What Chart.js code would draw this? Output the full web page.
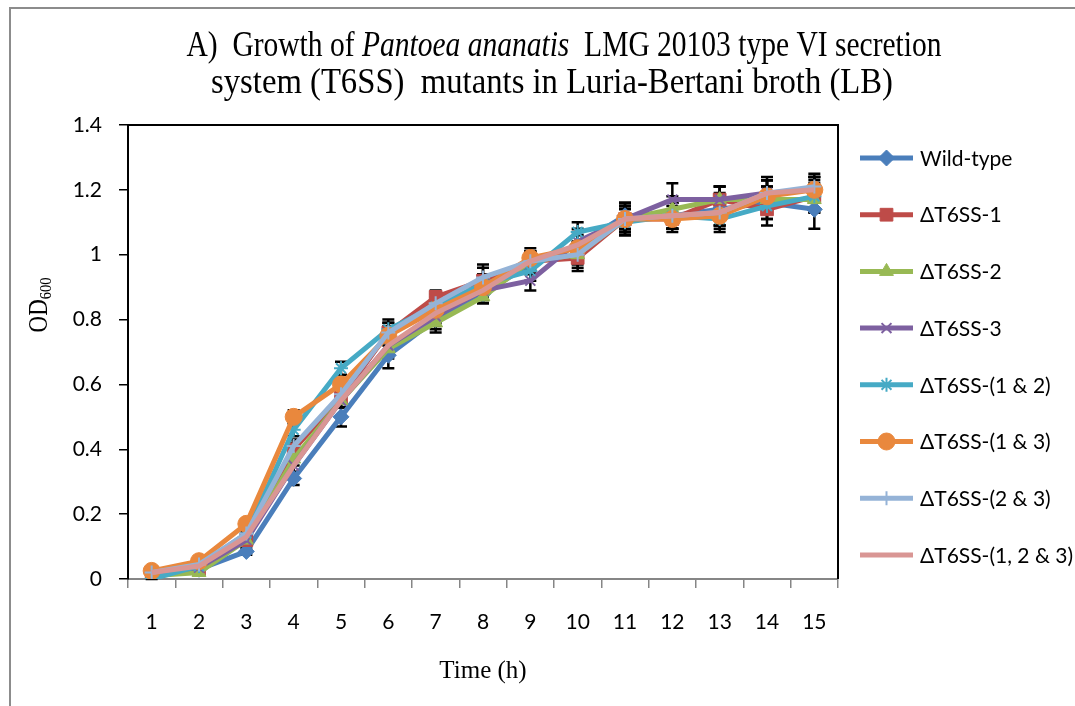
<!DOCTYPE html>
<html>
<head>
<meta charset="utf-8">
<script src="https://cdn.jsdelivr.net/npm/chart.js@4.4.0/dist/chart.umd.min.js"></script>
<style>
  html, body { margin: 0; padding: 0; background: #fff; }
  #wrap { width: 1075px; height: 706px; }
</style>
</head>
<body>
<div id="wrap"><canvas id="growthChart" width="1075" height="706"></canvas></div>
<script>
// time points (h)
var timeLabels = ["1", "2", "3", "4", "5", "6", "7", "8", "9", "10", "11", "12", "13", "14", "15"];
var yTicks = [0, 0.2, 0.4, 0.6, 0.8, 1, 1.2, 1.4];
var yTickLabels = ["0", "0.2", "0.4", "0.6", "0.8", "1", "1.2", "1.4"];

var seriesNames = ["Wild-type", "\u0394T6SS-1", "\u0394T6SS-2", "\u0394T6SS-3",
  "\u0394T6SS-(1 & 2)", "\u0394T6SS-(1 & 3)", "\u0394T6SS-(2 & 3)", "\u0394T6SS-(1, 2 & 3)"];

// OD600 readings
var wildType = [0.02, 0.03, 0.085, 0.31, 0.50, 0.69, 0.80, 0.88, 0.97, 1.03, 1.12, 1.12, 1.14, 1.16, 1.14];
var t6ss1    = [0.02, 0.03, 0.12, 0.40, 0.56, 0.76, 0.87, 0.92, 0.98, 0.99, 1.11, 1.11, 1.17, 1.14, 1.18];
var t6ss2    = [0.01, 0.02, 0.12, 0.37, 0.55, 0.71, 0.79, 0.87, 0.98, 1.00, 1.11, 1.14, 1.17, 1.17, 1.17];
var t6ss3    = [0.02, 0.035, 0.12, 0.35, 0.55, 0.72, 0.81, 0.89, 0.92, 1.04, 1.11, 1.17, 1.17, 1.19, 1.20];
var t6ss12   = [0.0, 0.04, 0.14, 0.46, 0.65, 0.77, 0.84, 0.91, 0.95, 1.07, 1.10, 1.12, 1.11, 1.15, 1.18];
var t6ss13   = [0.025, 0.055, 0.17, 0.50, 0.60, 0.75, 0.83, 0.90, 0.99, 1.02, 1.11, 1.11, 1.12, 1.18, 1.20];
var t6ss23   = [0.02, 0.045, 0.14, 0.41, 0.57, 0.76, 0.85, 0.93, 0.98, 1.00, 1.11, 1.12, 1.13, 1.19, 1.21];
var t6ss123  = [0.02, 0.04, 0.13, 0.35, 0.55, 0.72, 0.82, 0.89, 0.98, 1.03, 1.11, 1.12, 1.13, 1.19, 1.20];

// standard deviations
var wildTypeErr = [0.005, 0.005, 0.01, 0.02, 0.03, 0.04, 0.03, 0.03, 0.03, 0.04, 0.04, 0.04, 0.05, 0.05, 0.06];
var t6ss1Err    = [0.005, 0.005, 0.01, 0.02, 0.02, 0.03, 0.02, 0.05, 0.03, 0.04, 0.05, 0.03, 0.04, 0.05, 0.05];
var t6ss2Err    = [0.005, 0.005, 0.01, 0.02, 0.02, 0.03, 0.03, 0.02, 0.03, 0.03, 0.04, 0.04, 0.04, 0.04, 0.04];
var t6ss3Err    = [0.005, 0.005, 0.01, 0.02, 0.02, 0.03, 0.03, 0.03, 0.03, 0.04, 0.04, 0.05, 0.04, 0.05, 0.04];
var t6ss12Err   = [0.005, 0.005, 0.01, 0.02, 0.02, 0.03, 0.03, 0.03, 0.03, 0.03, 0.04, 0.04, 0.04, 0.04, 0.04];
var t6ss13Err   = [0.005, 0.005, 0.01, 0.02, 0.02, 0.03, 0.03, 0.03, 0.03, 0.04, 0.04, 0.04, 0.04, 0.05, 0.04];
var t6ss23Err   = [0.005, 0.005, 0.01, 0.02, 0.02, 0.03, 0.03, 0.03, 0.03, 0.04, 0.04, 0.04, 0.04, 0.04, 0.04];
var t6ss123Err  = [0.005, 0.005, 0.01, 0.02, 0.02, 0.03, 0.03, 0.03, 0.03, 0.04, 0.04, 0.04, 0.04, 0.04, 0.04];

var seriesValues = [wildType, t6ss1, t6ss2, t6ss3, t6ss12, t6ss13, t6ss23, t6ss123];
var seriesErrors = [wildTypeErr, t6ss1Err, t6ss2Err, t6ss3Err, t6ss12Err, t6ss13Err, t6ss23Err, t6ss123Err];

var colors = ["#4A7EBB", "#BE4B48", "#98B954", "#7D60A0", "#46AAC5", "#E9883D", "#95B3D7", "#D99694"];
var markers = ["rectRot", "rect", "triangle", "crossRot", "star", "circle", "cross", false];
var markerSizes = [8, 9, 8, 7, 7, 8.5, 7, 0];

var sansFont = "Lato, 'Noto Sans', sans-serif";
var serifFont = "'Liberation Serif', 'Times New Roman', serif";

var datasets = seriesNames.map(function (name, i) {
  return {
    label: name,
    data: seriesValues[i],
    errors: seriesErrors[i],
    borderColor: colors[i],
    backgroundColor: colors[i],
    borderWidth: 5,
    pointStyle: markers[i],
    pointRadius: markerSizes[i],
    pointBorderWidth: (i === 3 || i === 4 || i === 6) ? 2 : 1,
    pointBorderColor: colors[i],
    pointBackgroundColor: colors[i],
    tension: 0,
    order: seriesNames.length - 1 - i
  };
});

// frame round the whole chart and the plot area
var framePlugin = {
  id: "frame",
  beforeDraw: function (chart) {
    var ctx = chart.ctx;
    ctx.save();
    ctx.strokeStyle = "#8c8c8c";
    ctx.lineWidth = 2;
    ctx.beginPath();
    ctx.moveTo(10, 706);
    ctx.lineTo(10, 8);
    ctx.lineTo(1075, 8);
    ctx.stroke();
    ctx.restore();
  },
  beforeDatasetsDraw: function (chart) {
    var a = chart.chartArea, ctx = chart.ctx;
    ctx.save();
    ctx.strokeStyle = "#000";
    ctx.lineWidth = 2;
    ctx.beginPath();
    ctx.moveTo(a.left, a.top);
    ctx.lineTo(a.right, a.top);
    ctx.lineTo(a.right, a.bottom);
    ctx.stroke();
    ctx.restore();
  }
};

// black error bars under the series
var errorBarPlugin = {
  id: "errorBars",
  beforeDatasetsDraw: function (chart) {
    var ctx = chart.ctx, yScale = chart.scales.y;
    ctx.save();
    ctx.strokeStyle = "#000";
    ctx.lineWidth = 2.5;
    chart.data.datasets.forEach(function (ds, i) {
      var meta = chart.getDatasetMeta(i);
      meta.data.forEach(function (pt, j) {
        var v = ds.data[j], e = ds.errors[j];
        var yTop = yScale.getPixelForValue(v + e);
        var yBot = yScale.getPixelForValue(Math.max(0, v - e));
        ctx.beginPath();
        ctx.moveTo(pt.x, yTop); ctx.lineTo(pt.x, yBot);
        ctx.moveTo(pt.x - 6, yTop); ctx.lineTo(pt.x + 6, yTop);
        ctx.moveTo(pt.x - 6, yBot); ctx.lineTo(pt.x + 6, yBot);
        ctx.stroke();
      });
    });
    ctx.restore();
  }
};

function drawParts(ctx, parts, cx, baseline, targetWidth) {
  var total = 0;
  parts.forEach(function (p) { ctx.font = p.font; p.w = ctx.measureText(p.text).width; total += p.w; });
  ctx.save();
  ctx.translate(cx, baseline);
  ctx.scale(targetWidth / total, 1);
  var x = -total / 2;
  parts.forEach(function (p) { ctx.font = p.font; ctx.fillText(p.text, x, 0); x += p.w; });
  ctx.restore();
}

// title with italic species name, y title with subscript, legend
var textPlugin = {
  id: "texts",
  afterDraw: function (chart) {
    var ctx = chart.ctx;
    ctx.save();
    ctx.fillStyle = "#000";
    ctx.textBaseline = "alphabetic";
    ctx.textAlign = "left";
    var tf = "35px " + serifFont, ti = "italic 35px " + serifFont;
    drawParts(ctx, [
      { text: "A)  Growth of ", font: tf },
      { text: "Pantoea ananatis", font: ti },
      { text: "  LMG 20103 type VI secretion", font: tf }
    ], 564, 56, 755);
    drawParts(ctx, [{ text: "system (T6SS)  mutants in Luria-Bertani broth (LB)", font: tf }], 552, 93, 682);

    // y axis title OD600
    ctx.save();
    ctx.translate(47, 305);
    ctx.rotate(-Math.PI / 2);
    ctx.scale(0.85, 1);
    ctx.font = "27px " + serifFont;
    var w1 = ctx.measureText("OD").width;
    ctx.font = "17px " + serifFont;
    var w2 = ctx.measureText("600").width;
    var x0 = -(w1 + w2) / 2;
    ctx.font = "27px " + serifFont;
    ctx.fillText("OD", x0, 0);
    ctx.font = "17px " + serifFont;
    ctx.fillText("600", x0 + w1, 4);
    ctx.restore();

    // legend
    chart.data.datasets.forEach(function (ds, i) {
      var y = 158 + i * 56.7;
      ctx.strokeStyle = ds.borderColor;
      ctx.lineWidth = 5;
      ctx.beginPath();
      ctx.moveTo(860, y); ctx.lineTo(913, y);
      ctx.stroke();
      if (ds.pointStyle) {
        ctx.fillStyle = ds.pointBackgroundColor;
        ctx.strokeStyle = ds.pointBorderColor;
        ctx.lineWidth = ds.pointBorderWidth;
        Chart.helpers.drawPoint(ctx, { pointStyle: ds.pointStyle, radius: ds.pointRadius, borderWidth: ds.pointBorderWidth, rotation: 0 }, 886.5, y);
      }
      ctx.fillStyle = "#000";
      ctx.font = "21px " + sansFont;
      ctx.textBaseline = "middle";
      ctx.fillText(ds.label, 920, y + 1);
    });
    ctx.restore();
  }
};

new Chart(document.getElementById("growthChart"), {
  type: "line",
  data: { labels: timeLabels, datasets: datasets },
  options: {
    responsive: false,
    animation: false,
    layout: { padding: { top: 125, right: 237, bottom: 0, left: 0 } },
    plugins: {
      legend: { display: false },
      title: { display: false },
      tooltip: { enabled: false }
    },
    scales: {
      x: {
        type: "category",
        offset: true,
        afterFit: function (s) { s.height = 127; },
        grid: { offset: true, drawOnChartArea: false, tickLength: 9, color: "#868686", lineWidth: 1.5 },
        border: { color: "#868686", width: 2 },
        ticks: { color: "#000", font: { family: sansFont, size: 21 }, padding: 22, maxRotation: 0, autoSkip: false },
        title: {
          display: true, text: "Time (h)", color: "#000",
          font: { family: serifFont, size: 25 }, padding: { top: 0, bottom: 20 }
        }
      },
      y: {
        min: 0,
        max: 1.4,
        afterFit: function (s) { s.width = 128; },
        afterBuildTicks: function (s) { s.ticks = yTicks.map(function (v) { return { value: v }; }); },
        grid: { drawOnChartArea: false, tickLength: 9, color: "#000", lineWidth: 1.5 },
        border: { color: "#000", width: 2 },
        ticks: {
          color: "#000", font: { family: sansFont, size: 21 }, padding: 17,
          callback: function (v, idx) { return yTickLabels[idx]; }
        }
      }
    }
  },
  plugins: [framePlugin, errorBarPlugin, textPlugin]
});
</script>
</body>
</html>
